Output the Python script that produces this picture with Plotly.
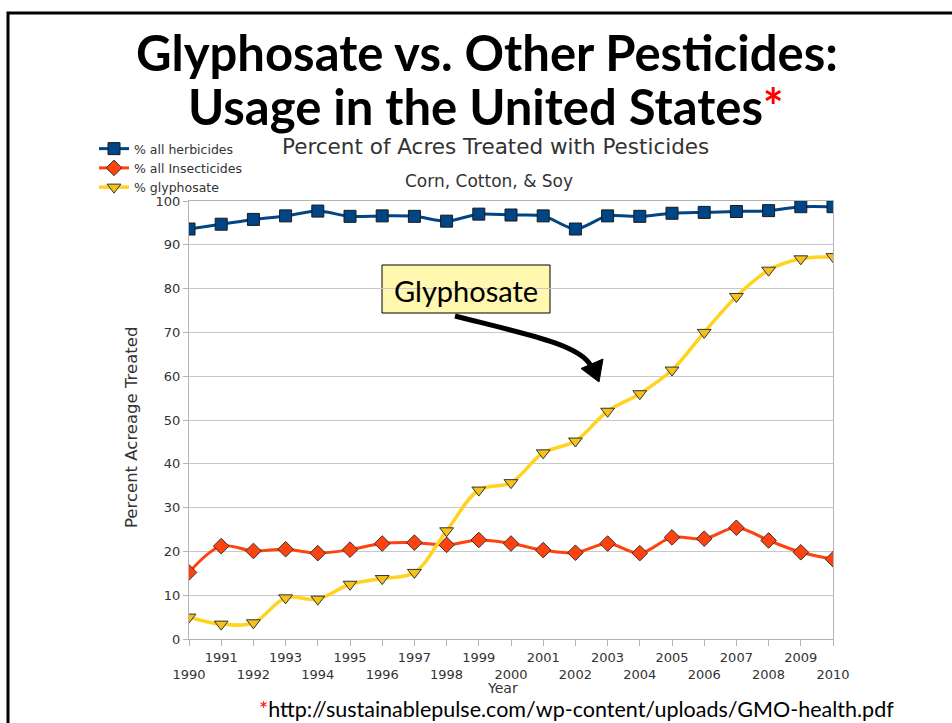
import plotly.graph_objects as go

years = list(range(1990, 2011))
herbicides = [93.6, 94.7, 95.8, 96.6, 97.7, 96.5, 96.6, 96.5, 95.4, 97.0, 96.8,
              96.6, 93.6, 96.6, 96.5, 97.2, 97.4, 97.6, 97.8, 98.7, 98.7]
insecticides = [15.2, 21.2, 20.1, 20.5, 19.6, 20.4, 21.8, 22.0, 21.5, 22.6, 21.8,
                20.3, 19.7, 21.8, 19.6, 23.2, 22.9, 25.4, 22.5, 19.8, 18.2]
glyphosate = [5.0, 3.4, 3.7, 9.4, 9.1, 12.5, 13.8, 15.2, 24.7, 34.0, 35.7,
              42.5, 45.2, 52.0, 56.0, 61.4, 70.0, 78.2, 84.2, 86.8, 87.3]
y_ticks = list(range(0, 101, 10))
x_tick_labels = [str(y) if y % 2 == 1 else "<br>" + str(y) for y in years]

W, H = 952, 723
L, R, T, B = 189, 833, 201, 639
CF = "DejaVu Sans"


def px(x):
    return (x - L) / (R - L)


def py(y):
    return (B - y) / (B - T)


fig = go.Figure()
fig.add_trace(go.Scatter(
    x=years, y=herbicides, name="% all herbicides", mode="lines+markers",
    line=dict(color="#004586", width=3, shape="spline", smoothing=0.8),
    marker=dict(symbol="square", size=12, color="#004586",
                line=dict(color="#1a1a1a", width=1))))
fig.add_trace(go.Scatter(
    x=years, y=insecticides, name="% all Insecticides", mode="lines+markers",
    line=dict(color="#ff420e", width=3, shape="spline", smoothing=1.0),
    marker=dict(symbol="diamond", size=12, color="#ff420e",
                line=dict(color="#333333", width=1))))
fig.add_trace(go.Scatter(
    x=years, y=glyphosate, name="% glyphosate", mode="lines+markers",
    line=dict(color="#ffd320", width=3.5, shape="spline", smoothing=1.0),
    marker=dict(symbol="triangle-down", size=12, color="#f5c21b",
                line=dict(color="#333333", width=1))))


def note(text, x, y, family, size, color="black", angle=0):
    return dict(text=text, x=px(x), y=py(y), xref="paper", yref="paper",
                xanchor="center", yanchor="middle", showarrow=False, textangle=angle,
                font=dict(family=family, size=size, color=color))


ann = [
    note("<b>Glyphosate vs. Other Pesticides:</b>", 487, 52, "Lato", 49),
    note("<b>Usage in the United States<span style='color:red'>*</span></b>", 486, 106, "Lato", 49),
    note("Percent of Acres Treated with Pesticides", 495, 146, CF, 21.5, "#333333"),
    note("Corn, Cotton, &amp; Soy", 489, 181, CF, 17, "#333333"),
    note("Percent Acreage Treated", 131, 428, CF, 16.5, "#333333", -90),
    note("Year", 502, 688, CF, 14, "#333333"),
    note("Glyphosate", 466, 290, "Lato", 29),
    note("<span style='color:red'>*</span>http://sustainablepulse.com/wp-content/uploads/GMO-health.pdf",
         576, 709, "Lato", 21.5),
]

shapes = []
# slide border
shapes.append(dict(type="rect", xref="paper", yref="paper",
                   x0=px(8), y0=py(13), x1=px(1000), y1=py(800),
                   line=dict(color="black", width=3), fillcolor="rgba(0,0,0,0)", layer="above"))
# callout box
shapes.append(dict(type="rect", xref="paper", yref="paper",
                   x0=px(382), y0=py(265), x1=px(550), y1=py(313),
                   line=dict(color="black", width=1), fillcolor="#fff8ae", layer="below"))
# curved arrow
p = "M {},{} C {},{} {},{} {},{}".format(px(455), py(316), px(530), py(335),
                                         px(580), py(345), px(591), py(366))
shapes.append(dict(type="path", xref="paper", yref="paper", path=p,
                   line=dict(color="black", width=5), layer="above"))
head = "M {},{} L {},{} L {},{} Z".format(px(603), py(359), px(581), py(368.5),
                                          px(599), py(382))
shapes.append(dict(type="path", xref="paper", yref="paper", path=head,
                   line=dict(color="black", width=1), fillcolor="black", layer="above"))

fig.update_layout(
    width=W, height=H,
    margin=dict(l=L, r=W - R, t=T, b=H - B, autoexpand=False),
    paper_bgcolor="white", plot_bgcolor="white",
    showlegend=True,
    legend=dict(x=px(94), y=py(134), xanchor="left", yanchor="top",
                bgcolor="rgba(0,0,0,0)", font=dict(family=CF, size=12.5, color="#333333"),
                itemwidth=30, tracegroupgap=0),
    annotations=ann, shapes=shapes,
    xaxis=dict(range=[1990, 2010], tickvals=years, ticktext=x_tick_labels, tickangle=0,
               showgrid=False, showline=True, linecolor="#b3b3b3", mirror=True,
               ticks="outside", ticklen=6, tickcolor="#b3b3b3",
               tickfont=dict(family=CF, size=13, color="#333333"),
               zeroline=False, fixedrange=True, automargin=False),
    yaxis=dict(range=[0, 100], tickvals=y_ticks,
               showgrid=True, gridcolor="#c8c8c8", showline=True, linecolor="#b3b3b3", mirror=True,
               ticks="outside", ticklen=5, tickcolor="#b3b3b3",
               tickfont=dict(family=CF, size=13, color="#333333"),
               zeroline=False, fixedrange=True, automargin=False),
)

fig.write_html("out.html", config={"displayModeBar": False},
               post_script="document.body.style.margin='0';document.body.style.overflow='hidden';")
